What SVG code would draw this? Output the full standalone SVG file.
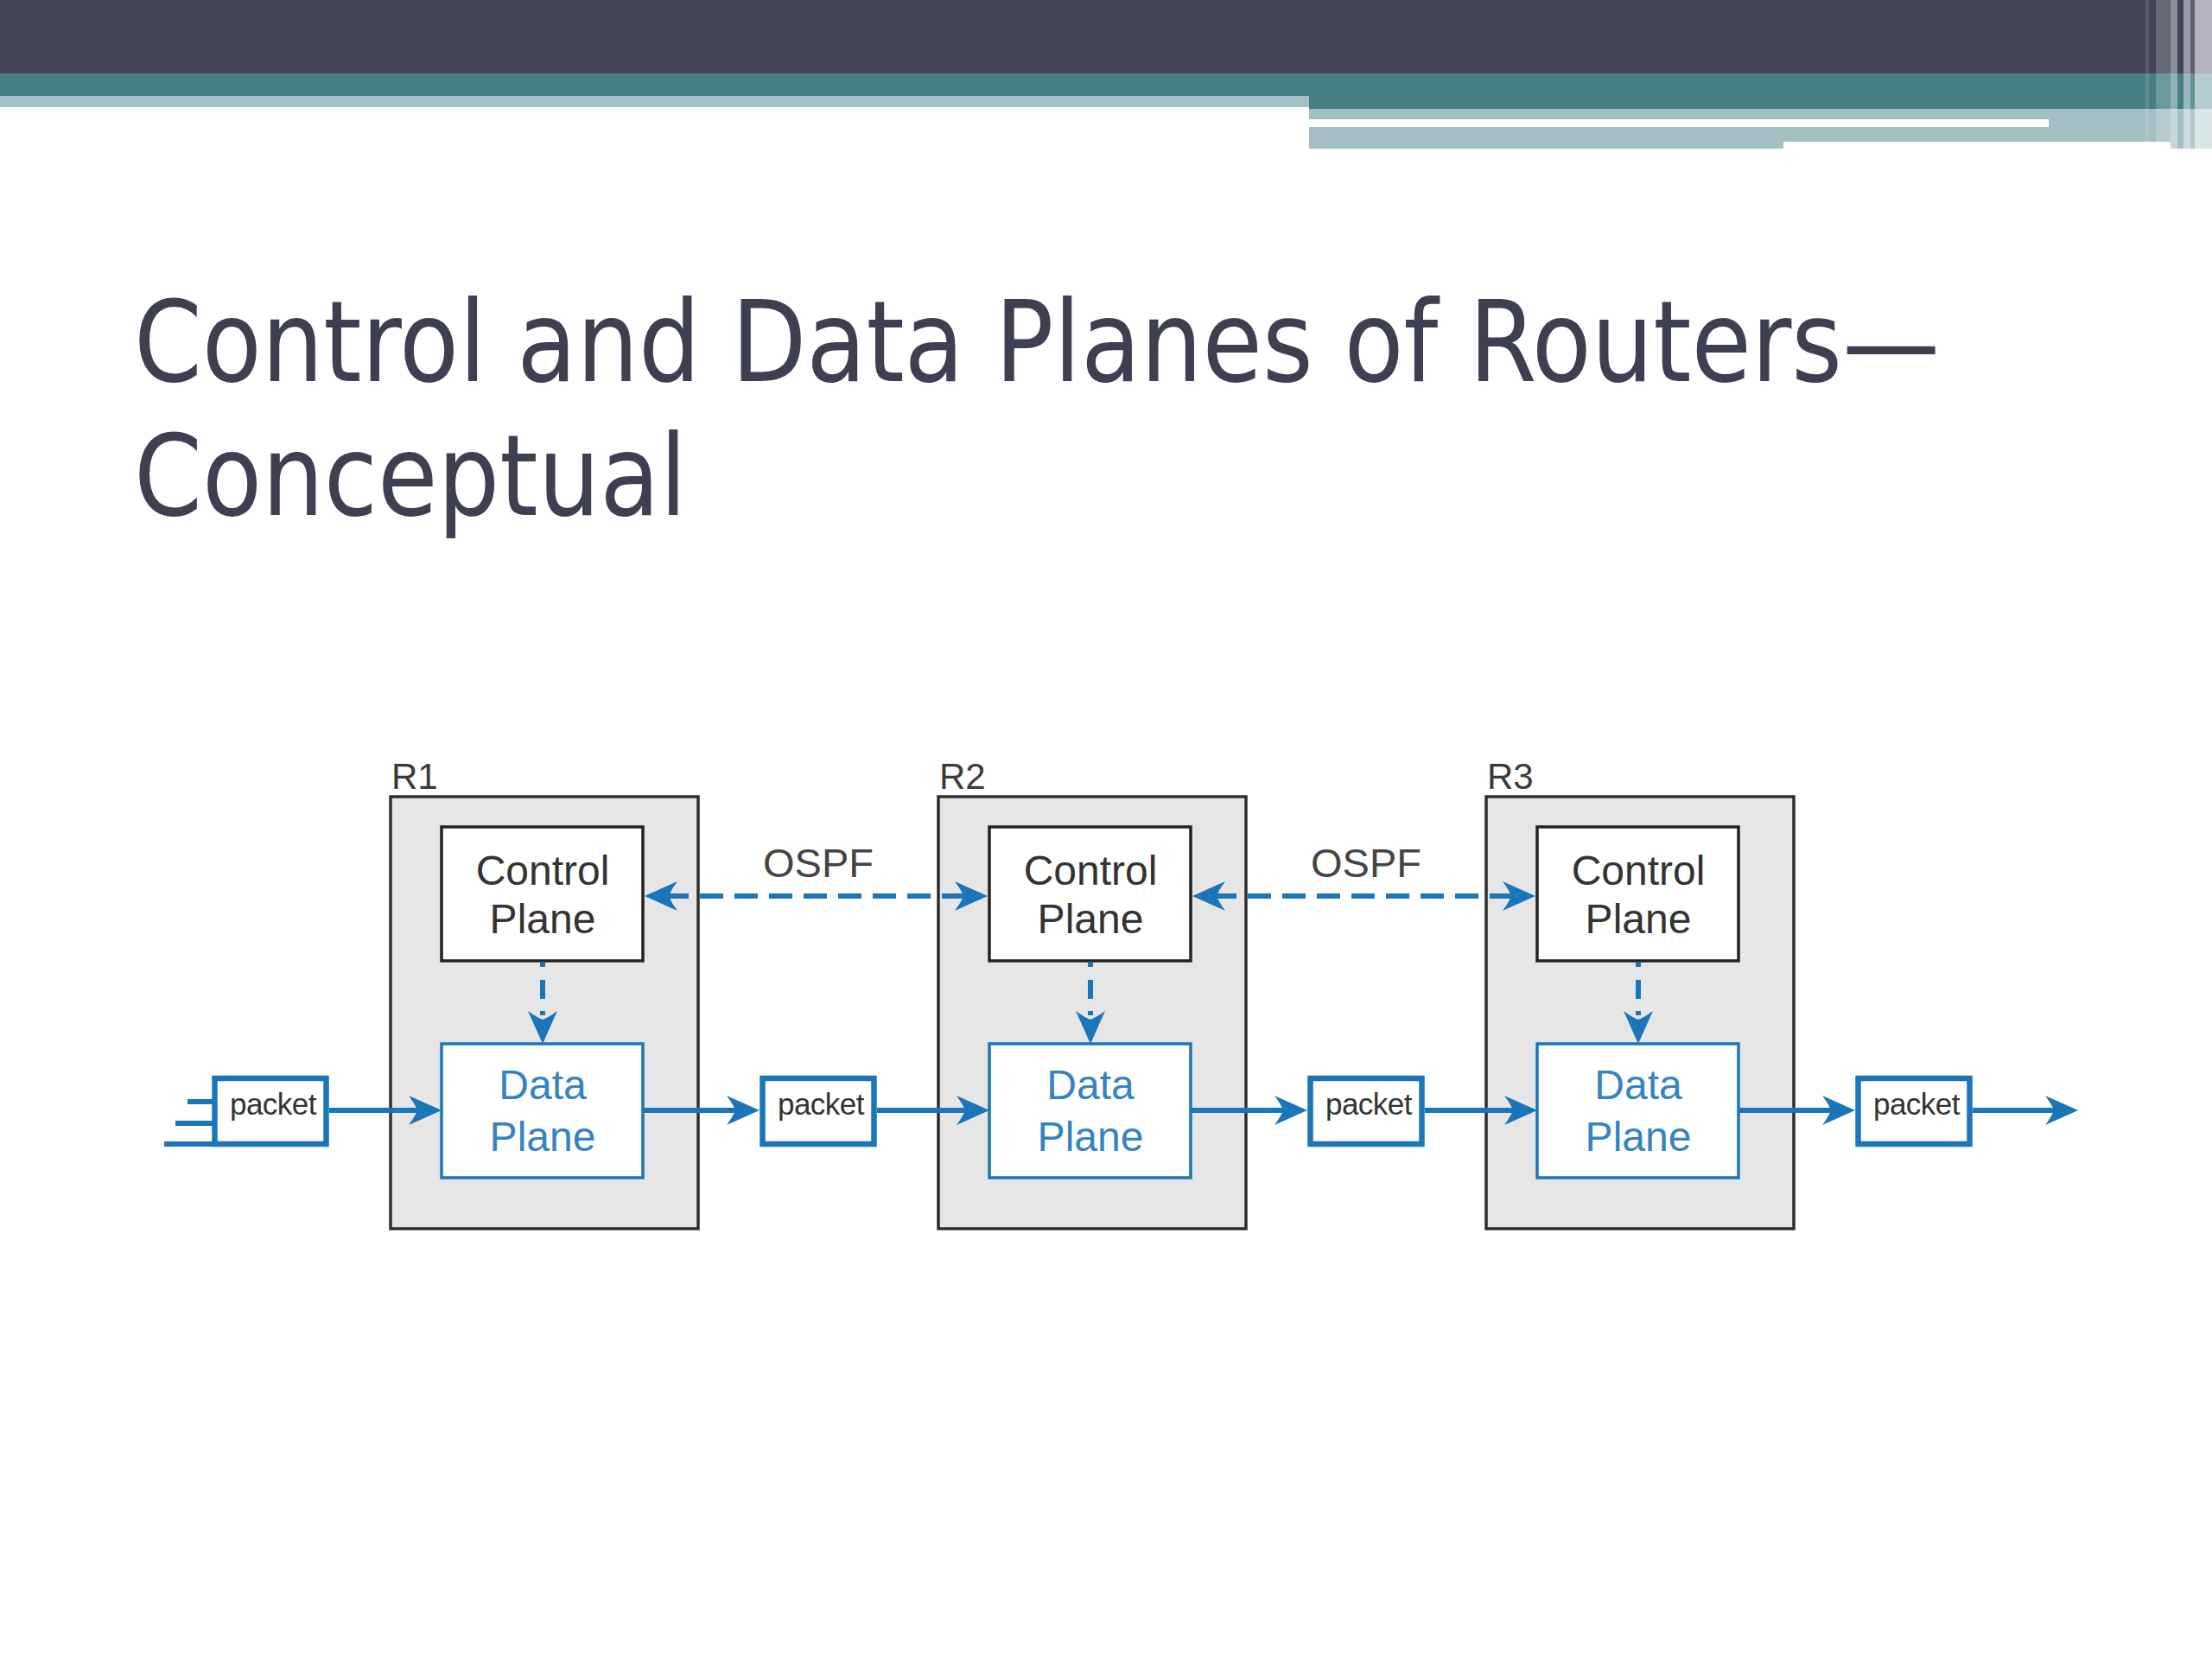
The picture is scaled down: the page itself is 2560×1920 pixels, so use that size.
<svg xmlns="http://www.w3.org/2000/svg" xmlns:xlink="http://www.w3.org/1999/xlink" width="2560" height="1920" viewBox="0 0 2560 1920">
<style>
.router{fill:#e6e6e6;stroke:#2e2e2e;stroke-width:3.5}
.cp{fill:#ffffff;stroke:#222222;stroke-width:3.5}
.dp{fill:#ffffff;stroke:#1b75b9;stroke-width:3.5}
.pk{fill:#ffffff;stroke:#1b75b9;stroke-width:6.5}
.rl{font-family:"Liberation Sans",Arial,sans-serif;font-size:42px;fill:#3a3a3a}
.ct{font-family:"Liberation Sans",Arial,sans-serif;font-size:48px;fill:#333333;text-anchor:middle}
.dt{font-family:"Liberation Sans",Arial,sans-serif;font-size:48px;fill:#3583c0;text-anchor:middle}
.pt{font-family:"Liberation Sans",Arial,sans-serif;font-size:35px;fill:#333333;text-anchor:middle;letter-spacing:-0.5px}
.os{font-family:"Liberation Sans",Arial,sans-serif;font-size:47px;fill:#444444;text-anchor:middle}
.solid{stroke:#1b75b9;stroke-width:6;fill:none}
.dash{stroke:#1b75b9;stroke-width:6;fill:none;stroke-dasharray:27 13}
.vdash{stroke:#1b75b9;stroke-width:6;fill:none;stroke-dasharray:5 15 22 14}
.ahd{fill:#1b75b9;stroke:none}
.title{font-family:"DejaVu Sans Condensed","DejaVu Sans","Liberation Sans",sans-serif;font-stretch:condensed;font-size:130px;fill:#3e4052}
</style>
<defs>
<path id="ah" d="M0,0 L-38,-17 Q-30,-6 -28,0 Q-30,6 -38,17 Z"/>
</defs>
<rect x="0" y="0" width="2560" height="1920" fill="#ffffff"/>
<g id="banner">
<rect x="0" y="0" width="2560" height="85" fill="#434456"/>
<rect x="0" y="85" width="2560" height="26" fill="#467f84"/>
<rect x="0" y="111" width="1515" height="13" fill="#a3c0c4"/>
<rect x="1515" y="85" width="1045" height="41" fill="#467f84"/>
<rect x="1515" y="126" width="997" height="46" fill="#a3bfc4"/>
<rect x="1515" y="138" width="856" height="9" fill="#ffffff"/>
<rect x="2064" y="164" width="448" height="8" fill="#ffffff"/>
<rect x="2512" y="126" width="48" height="46" fill="#a3bfc4"/>
<rect x="2483" y="0" width="4" height="164" fill="#ffffff" opacity="0.12"/>
<rect x="2495" y="0" width="17" height="164" fill="#ffffff" opacity="0.2"/>
<rect x="2512" y="0" width="8" height="172" fill="#ffffff" opacity="0.4"/>
<rect x="2527" y="0" width="8" height="172" fill="#ffffff" opacity="0.45"/>
<rect x="2535" y="0" width="5" height="172" fill="#ffffff" opacity="0.15"/>
<rect x="2540" y="0" width="20" height="172" fill="#ffffff" opacity="0.6"/>
</g>
<g id="title">
<text class="title" x="155" y="441" textLength="2090" lengthAdjust="spacingAndGlyphs">Control and Data Planes of Routers—</text>
<text class="title" x="155" y="596" textLength="640" lengthAdjust="spacingAndGlyphs">Conceptual</text>
</g>
<g id="R1">
<text class="rl" x="453" y="913">R1</text>
<rect class="router" x="452" y="922" width="356" height="500"/>
</g>
<g id="R1-control">
<rect class="cp" x="511" y="957" width="233" height="155"/>
<text class="ct" x="628" y="1024">Control</text>
<text class="ct" x="628" y="1080">Plane</text>
</g>
<g id="R1-data">
<rect class="dp" x="511" y="1208" width="233" height="155"/>
<text class="dt" x="628" y="1272">Data</text>
<text class="dt" x="628" y="1332">Plane</text>
</g>
<g id="R2">
<text class="rl" x="1087" y="913">R2</text>
<rect class="router" x="1086" y="922" width="356" height="500"/>
</g>
<g id="R2-control">
<rect class="cp" x="1145" y="957" width="233" height="155"/>
<text class="ct" x="1262" y="1024">Control</text>
<text class="ct" x="1262" y="1080">Plane</text>
</g>
<g id="R2-data">
<rect class="dp" x="1145" y="1208" width="233" height="155"/>
<text class="dt" x="1262" y="1272">Data</text>
<text class="dt" x="1262" y="1332">Plane</text>
</g>
<g id="R3">
<text class="rl" x="1721" y="913">R3</text>
<rect class="router" x="1720" y="922" width="356" height="500"/>
</g>
<g id="R3-control">
<rect class="cp" x="1779" y="957" width="233" height="155"/>
<text class="ct" x="1896" y="1024">Control</text>
<text class="ct" x="1896" y="1080">Plane</text>
</g>
<g id="R3-data">
<rect class="dp" x="1779" y="1208" width="233" height="155"/>
<text class="dt" x="1896" y="1272">Data</text>
<text class="dt" x="1896" y="1332">Plane</text>
</g>
<g id="packet1">
<line class="solid" x1="217" y1="1275" x2="248" y2="1275"/>
<line class="solid" x1="203" y1="1300" x2="248" y2="1300"/>
<line class="solid" x1="190" y1="1324" x2="248" y2="1324"/>
<rect class="pk" x="248.5" y="1248" width="129" height="76"/>
<text class="pt" x="316" y="1290">packet</text>
</g>
<g id="packet2">
<rect class="pk" x="882.5" y="1248" width="129" height="76"/>
<text class="pt" x="950" y="1290">packet</text>
</g>
<g id="packet3">
<rect class="pk" x="1516.5" y="1248" width="129" height="76"/>
<text class="pt" x="1584" y="1290">packet</text>
</g>
<g id="packet4">
<rect class="pk" x="2150.5" y="1248" width="129" height="76"/>
<text class="pt" x="2218" y="1290">packet</text>
</g>
<g id="ospf-labels">
<text class="os" x="947" y="1015">OSPF</text>
<text class="os" x="1581" y="1015">OSPF</text>
</g>
<g id="connectors">
<line class="solid" x1="381" y1="1285" x2="491" y2="1285"/>
<line class="solid" x1="744" y1="1285" x2="859" y2="1285"/>
<line class="solid" x1="1015" y1="1285" x2="1125" y2="1285"/>
<line class="solid" x1="1378" y1="1285" x2="1493" y2="1285"/>
<line class="solid" x1="1649" y1="1285" x2="1759" y2="1285"/>
<line class="solid" x1="2012" y1="1285" x2="2127" y2="1285"/>
<line class="solid" x1="2283" y1="1285" x2="2385" y2="1285"/>
<line class="dash" x1="770" y1="1037" x2="1122" y2="1037"/>
<line class="dash" x1="1404" y1="1037" x2="1756" y2="1037"/>
<line class="vdash" x1="628" y1="1114" x2="628" y2="1188"/>
<line class="vdash" x1="1262" y1="1114" x2="1262" y2="1188"/>
<line class="vdash" x1="1896" y1="1114" x2="1896" y2="1188"/>
<use xlink:href="#ah" href="#ah" class="ahd" transform="translate(511,1285)"/>
<use xlink:href="#ah" href="#ah" class="ahd" transform="translate(879,1285)"/>
<use xlink:href="#ah" href="#ah" class="ahd" transform="translate(1145,1285)"/>
<use xlink:href="#ah" href="#ah" class="ahd" transform="translate(1513,1285)"/>
<use xlink:href="#ah" href="#ah" class="ahd" transform="translate(1779,1285)"/>
<use xlink:href="#ah" href="#ah" class="ahd" transform="translate(2147,1285)"/>
<use xlink:href="#ah" href="#ah" class="ahd" transform="translate(2405,1285)"/>
<use xlink:href="#ah" href="#ah" class="ahd" transform="translate(746,1037) rotate(180)"/>
<use xlink:href="#ah" href="#ah" class="ahd" transform="translate(1143,1037)"/>
<use xlink:href="#ah" href="#ah" class="ahd" transform="translate(1380,1037) rotate(180)"/>
<use xlink:href="#ah" href="#ah" class="ahd" transform="translate(1777,1037)"/>
<use xlink:href="#ah" href="#ah" class="ahd" transform="translate(628,1208) rotate(90)"/>
<use xlink:href="#ah" href="#ah" class="ahd" transform="translate(1262,1208) rotate(90)"/>
<use xlink:href="#ah" href="#ah" class="ahd" transform="translate(1896,1208) rotate(90)"/>
</g>
</svg>
